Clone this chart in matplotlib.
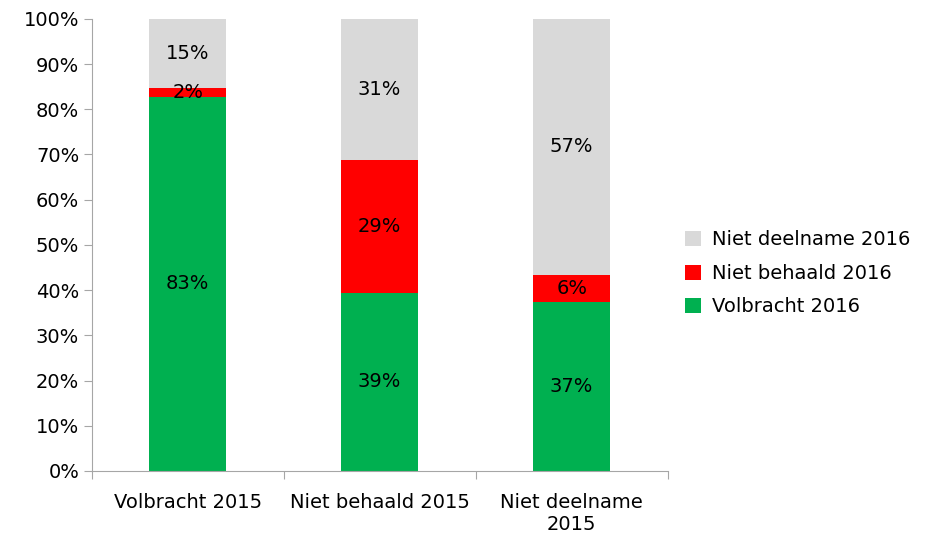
import numpy as np
import matplotlib
matplotlib.use("Agg")
import matplotlib.pyplot as plt

categories = ["Volbracht 2015", "Niet behaald 2015", "Niet deelname\n2015"]
volbracht_2016 = [82.7, 39.4, 37.4]
niet_behaald_2016 = [2.0, 29.3, 6.0]
niet_deelname_2016 = [15.3, 31.3, 56.6]

series = [("Volbracht 2016", volbracht_2016, "#00B050"),
          ("Niet behaald 2016", niet_behaald_2016, "#FF0000"),
          ("Niet deelname 2016", niet_deelname_2016, "#D9D9D9")]

plt.rcParams["font.family"] = "DejaVu Sans"
fs = 14
fig = plt.figure(figsize=(9.26, 5.37), dpi=100)
ax = fig.add_axes([0.099, 0.123, 0.622, 0.842])

x = np.arange(len(categories))
bottom = np.zeros(len(categories))
handles = []
for name, vals, col in series:
    vals = np.array(vals)
    b = ax.bar(x, vals, 0.4, bottom=bottom, color=col, label=name)
    handles.append(b)
    for xi, v, bt in zip(x, vals, bottom):
        ax.text(xi, bt + v / 2, "%.0f%%" % v, ha="center", va="center",
                fontsize=fs, color="black")
    bottom += vals

ax.set_xlim(-0.5, 2.5)
ax.set_ylim(0, 100)
ax.set_yticks(np.arange(0, 101, 10))
ax.set_yticklabels(["%d%%" % t for t in range(0, 101, 10)], fontsize=fs)
ax.set_xticks([-0.5, 0.5, 1.5, 2.5])
ax.set_xticklabels([])
ax.set_xticks(x, minor=True)
ax.set_xticklabels(categories, minor=True, fontsize=fs)
ax.tick_params(axis="x", which="minor", length=0, pad=16)
ax.tick_params(axis="x", which="major", length=6, color="#A6A6A6")
ax.tick_params(axis="y", length=6, color="#A6A6A6", pad=3)

for s in ["top", "right"]:
    ax.spines[s].set_visible(False)
for s in ["left", "bottom"]:
    ax.spines[s].set_color("#A6A6A6")

ax.legend(handles[::-1], [s[0] for s in series[::-1]], loc="center left",
          bbox_to_anchor=(1.0, 0.437), frameon=False, fontsize=fs,
          handlelength=0.8, handleheight=0.8, labelspacing=0.75,
          handletextpad=0.6)

fig.savefig("out.png", dpi=100)
